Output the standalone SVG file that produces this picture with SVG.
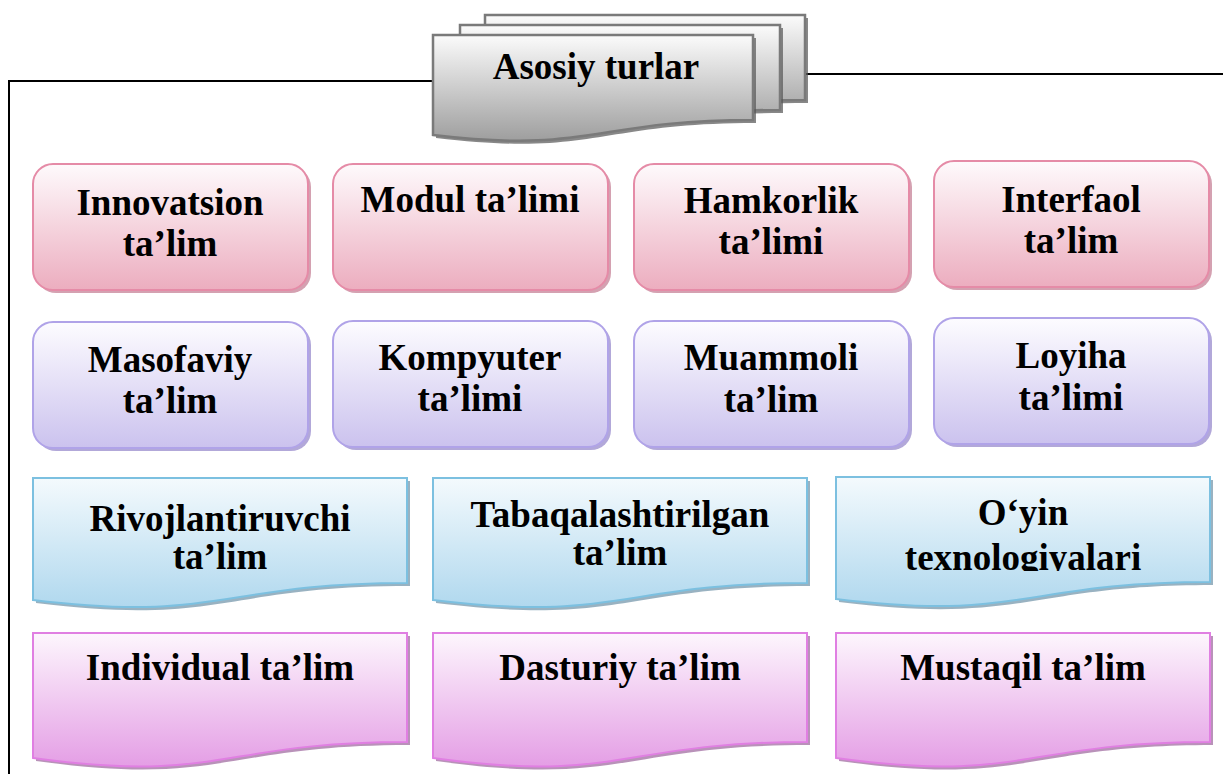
<svg xmlns="http://www.w3.org/2000/svg" width="1223" height="774" viewBox="0 0 1223 774">
<defs>
<linearGradient id="gPink" x1="0" y1="0" x2="0" y2="1"><stop offset="0" stop-color="#fefafc"/><stop offset="1" stop-color="#ecadbf"/></linearGradient>
<linearGradient id="gPurple" x1="0" y1="0" x2="0" y2="1"><stop offset="0" stop-color="#fdfcff"/><stop offset="1" stop-color="#cbc2ee"/></linearGradient>
<linearGradient id="gBlue" x1="0" y1="0" x2="0" y2="1"><stop offset="0" stop-color="#f4fafd"/><stop offset="1" stop-color="#b0d8ee"/></linearGradient>
<linearGradient id="gMag" x1="0" y1="0" x2="0" y2="1"><stop offset="0" stop-color="#fdf6fd"/><stop offset="1" stop-color="#e49ee5"/></linearGradient>
<linearGradient id="gGray" x1="0" y1="0" x2="0" y2="1"><stop offset="0" stop-color="#fbfbfb"/><stop offset="1" stop-color="#9e9e9e"/></linearGradient>
<path id="doc" d="M0,0 H374 V105 C187,105 187,145 0,122 Z"/>
<path id="docM" d="M0,0 H374 V109 C187,109 187,151 0,125 Z"/>
<path id="docH" d="M0,0 H320 V85 C160,85 160,119 0,100 Z"/>
<clipPath id="clipOyin"><rect x="836" y="470" width="380" height="101"/></clipPath>
<style>
.t{font-family:"Liberation Serif","Times New Roman",serif;font-weight:bold;font-size:37px;fill:#000;text-anchor:middle}
.frame{fill:none;stroke:#000;stroke-width:2}
.pink{fill:url(#gPink);stroke:#e58ba7;stroke-width:2}
.pinkS{fill:#c98a9d;opacity:.8}
.purple{fill:url(#gPurple);stroke:#b0a3e8;stroke-width:2}
.purpleS{fill:#9f92cf;opacity:.8}
.blue{fill:url(#gBlue);stroke:#7cc0e0;stroke-width:2}
.blueS{fill:#7f9fb2;opacity:.8}
.mag{fill:url(#gMag);stroke:#e07fe2;stroke-width:2}
.magS{fill:#a777a8;opacity:.8}
.gray{fill:url(#gGray);stroke:#7a7a7a;stroke-width:2.5}
.grayS{fill:#555;opacity:.7}
</style>
</defs>
<rect width="1223" height="774" fill="#fff"/>

<g id="connectors">
<path class="frame" d="M435,81 H9 V774"/>
<path class="frame" d="M806,74 H1223"/>
</g>

<g id="header">
<use href="#docH" x="488" y="18" class="grayS"/>
<use href="#docH" x="485" y="15" class="gray"/>
<use href="#docH" x="463" y="28" class="grayS"/>
<use href="#docH" x="460" y="25" class="gray"/>
<use href="#docH" x="436" y="38" class="grayS"/>
<use href="#docH" x="433" y="35" class="gray"/>
<text class="t" x="596" y="79">Asosiy turlar</text>
</g>

<g id="n-innovatsion">
<rect x="36" y="167" width="275" height="126" rx="20" class="pinkS"/>
<rect x="33" y="164" width="275" height="126" rx="20" class="pink"/>
<text class="t" x="170" y="215">Innovatsion</text><text class="t" x="170" y="256">ta’lim</text>
</g>
<g id="n-modul">
<rect x="336" y="167" width="275" height="126" rx="20" class="pinkS"/>
<rect x="333" y="164" width="275" height="126" rx="20" class="pink"/>
<text class="t" x="470" y="212">Modul ta’limi</text>
</g>
<g id="n-hamkorlik">
<rect x="637" y="167" width="275" height="126" rx="20" class="pinkS"/>
<rect x="634" y="164" width="275" height="126" rx="20" class="pink"/>
<text class="t" x="771" y="213">Hamkorlik</text><text class="t" x="771" y="254">ta’limi</text>
</g>
<g id="n-interfaol">
<rect x="937" y="164" width="275" height="126" rx="20" class="pinkS"/>
<rect x="934" y="161" width="275" height="126" rx="20" class="pink"/>
<text class="t" x="1071" y="212">Interfaol</text><text class="t" x="1071" y="253">ta’lim</text>
</g>

<g id="n-masofaviy">
<rect x="36" y="325" width="275" height="126" rx="20" class="purpleS"/>
<rect x="33" y="322" width="275" height="126" rx="20" class="purple"/>
<text class="t" x="170" y="372">Masofaviy</text><text class="t" x="170" y="413">ta’lim</text>
</g>
<g id="n-kompyuter">
<rect x="336" y="324" width="275" height="126" rx="20" class="purpleS"/>
<rect x="333" y="321" width="275" height="126" rx="20" class="purple"/>
<text class="t" x="470" y="370">Kompyuter</text><text class="t" x="470" y="411">ta’limi</text>
</g>
<g id="n-muammoli">
<rect x="637" y="324" width="275" height="126" rx="20" class="purpleS"/>
<rect x="634" y="321" width="275" height="126" rx="20" class="purple"/>
<text class="t" x="771" y="370">Muammoli</text><text class="t" x="771" y="412">ta’lim</text>
</g>
<g id="n-loyiha">
<rect x="937" y="321" width="275" height="126" rx="20" class="purpleS"/>
<rect x="934" y="318" width="275" height="126" rx="20" class="purple"/>
<text class="t" x="1071" y="368">Loyiha</text><text class="t" x="1071" y="410">ta’limi</text>
</g>

<g id="n-rivojlantiruvchi">
<use href="#doc" x="36" y="481" class="blueS"/>
<use href="#doc" x="33" y="478" class="blue"/>
<text class="t" x="220" y="531">Rivojlantiruvchi</text><text class="t" x="220" y="569">ta’lim</text>
</g>
<g id="n-tabaqalashtirilgan">
<use href="#doc" x="436" y="481" class="blueS"/>
<use href="#doc" x="433" y="478" class="blue"/>
<text class="t" x="620" y="527">Tabaqalashtirilgan</text><text class="t" x="620" y="565">ta’lim</text>
</g>
<g id="n-oyin">
<use href="#doc" x="839" y="480" class="blueS"/>
<use href="#doc" x="836" y="477" class="blue"/>
<g clip-path="url(#clipOyin)"><text class="t" x="1023" y="525">O‘yin</text><text class="t" x="1023" y="570">texnologiyalari</text></g>
</g>

<g id="n-individual">
<use href="#docM" x="36" y="636" class="magS"/>
<use href="#docM" x="33" y="633" class="mag"/>
<text class="t" x="220" y="680">Individual ta’lim</text>
</g>
<g id="n-dasturiy">
<use href="#docM" x="436" y="636" class="magS"/>
<use href="#docM" x="433" y="633" class="mag"/>
<text class="t" x="620" y="680">Dasturiy ta’lim</text>
</g>
<g id="n-mustaqil">
<use href="#docM" x="839" y="636" class="magS"/>
<use href="#docM" x="836" y="633" class="mag"/>
<text class="t" x="1023" y="680">Mustaqil ta’lim</text>
</g>
</svg>
